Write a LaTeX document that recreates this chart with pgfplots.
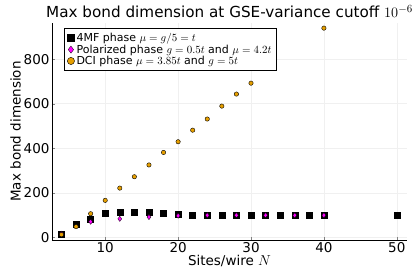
\documentclass[border=0pt]{standalone}
\usepackage{pgfplots}
\pgfplotsset{compat=1.18}
\usepackage{fontspec}
\setmainfont{DejaVu Sans}
\definecolor{jorange}{RGB}{230,159,0}
\definecolor{jmag}{RGB}{255,0,255}
\begin{document}
\begin{tikzpicture}
\begin{axis}[
  scale only axis, width=355pt, height=217pt,
  xmin=2.7, xmax=51.4, ymin=-12, ymax=962,
  axis x line*=bottom, axis y line*=left,
  xtick={10,20,30,40,50}, ytick={0,200,400,600,800},
  tick align=inside, major tick length=3pt,
  grid=major, grid style={gray!12, line width=0.5pt},
  /pgf/number format/assume math mode=true,
  tick label style={font=\fontsize{13.5}{15}\selectfont},
  xticklabel style={yshift=1pt},
  yticklabel style={xshift=1pt},
  xlabel={Sites/wire $N$}, ylabel={Max bond dimension},
  label style={font=\fontsize{13.5}{15}\selectfont},
  xlabel style={yshift=4pt},
  ylabel style={yshift=-4pt},
  title={Max bond dimension at GSE-variance cutoff $10^{-6}$},
  title style={font=\fontsize{15.2}{17}\selectfont, yshift=-4pt},
  legend style={at={(0.035,0.975)}, anchor=north west, font=\fontsize{11}{13}\selectfont,
    draw=black, line width=0.8pt, inner sep=2.5pt, row sep=-2.5pt, legend cell align=left},
  legend image post style={mark size=3.6pt},
]
\addplot[only marks, mark=square*, mark size=3pt, black] coordinates {
(4,13) (6,61) (8,83) (10,108) (12,113) (14,113) (16,112) (18,109) (20,106)
(22,100) (24,100) (26,100) (28,100) (30,100) (32,100) (34,100) (36,100) (38,100) (40,100) (50,100)};
\addlegendentry{4MF phase $\mu=g/5=t$}
\addplot[only marks, mark=diamond*, mark size=2.6pt, draw=black, fill=jmag, line width=0.3pt] coordinates {
(4,16) (8,70) (12,83) (16,91) (20,97) (24,99) (28,99) (32,99) (36,99) (40,99)};
\addlegendentry{Polarized phase $g=0.5t$ and $\mu=4.2t$}
\addplot[only marks, mark=*, mark size=2.2pt, draw=black, fill=jorange, line width=0.4pt] coordinates {
(4,12) (6,48) (8,106) (10,166) (12,221) (14,272) (16,325) (18,381) (20,429)
(22,481) (24,531) (26,589) (28,643) (30,692) (40,939)};
\addlegendentry{DCI phase $\mu=3.85t$ and $g=5t$}
\end{axis}
\pgfresetboundingbox
\path[use as bounding box] (current axis.south west) ++(-52pt,-37pt) rectangle ++(415pt,277pt);
\end{tikzpicture}
\end{document}
